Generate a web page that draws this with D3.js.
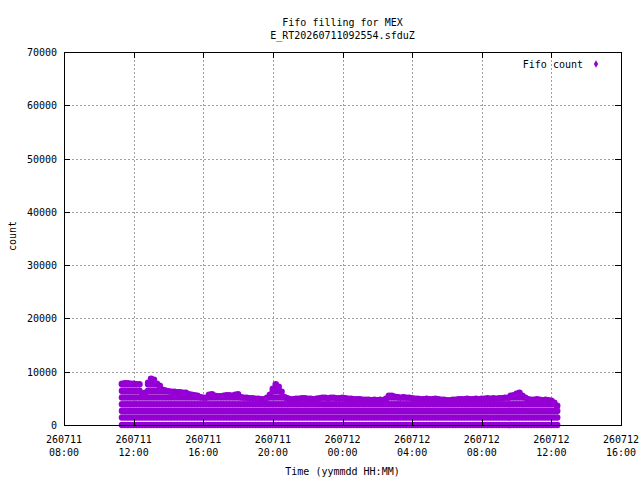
<!DOCTYPE html>
<html>
<head>
<meta charset="utf-8">
<script src="https://cdn.jsdelivr.net/npm/d3@7.9.0/dist/d3.min.js"></script>
<style>
  html, body { margin: 0; padding: 0; background: #fff; }
  svg text { font-family: "DejaVu Sans Mono", "Liberation Mono", monospace; font-size: 10px; fill: #000; }
</style>
</head>
<body>
<div id="chart"></div>
<script>
// fifo samples, one bucket every 10 minutes, peak count seen in each bucket
const sampleStart = "2026-07-11 11:20";
const sampleStepMinutes = 10;
const peakCounts = [
  7730, 7830, 7830, 7730, 7730, 7640, 7640, 5860, 6040, 7920,
  8670, 8480, 7730, 7360, 6610, 6420, 6330, 6230, 6230, 6140,
  6140, 6040, 6040, 5760, 5670, 5580, 5480, 5200, 5110, 5110,
  5670, 5760, 5480, 5390, 5390, 5480, 5580, 5580, 5480, 5670,
  5760, 5200, 5110, 5110, 5010, 5010, 4920, 4920, 4820, 4820,
  5110, 5670, 6800, 7640, 7170, 6230, 5200, 5010, 4820, 4820,
  4920, 4920, 5010, 5010, 4920, 4920, 4820, 4920, 5010, 5110,
  5110, 5010, 5110, 5110, 5010, 5010, 5110, 5010, 4920, 4920,
  4820, 4820, 4820, 4730, 4730, 4730, 4640, 4730, 4640, 4730,
  4640, 4920, 5480, 5480, 5290, 5200, 5110, 5200, 5110, 5110,
  5010, 4920, 4920, 4820, 4820, 4920, 4820, 4820, 4920, 4820,
  4730, 4730, 4640, 4640, 4730, 4730, 4820, 4820, 4820, 4920,
  4820, 4820, 4920, 4820, 4920, 4920, 5010, 4920, 5010, 4920,
  5010, 5010, 5110, 5110, 5480, 5580, 5860, 6040, 5480, 5110,
  4820, 4730, 4730, 4820, 4730, 4640, 4730, 4640, 4540, 4170,
  3600
];
// count levels the fifo passes through while filling (row stripes)
const fillLevels = [0, 1400, 2650, 3900, 5150, 6400, 7650];

const yTicks = [0, 10000, 20000, 30000, 40000, 50000, 60000, 70000];
const xTickTimes = [
  "2026-07-11 08:00", "2026-07-11 12:00", "2026-07-11 16:00", "2026-07-11 20:00",
  "2026-07-12 00:00", "2026-07-12 04:00", "2026-07-12 08:00", "2026-07-12 12:00",
  "2026-07-12 16:00"
];

const width = 640;
const height = 480;
const margin = { top: 52, right: 19, bottom: 55, left: 64 };
const plot = {
  left: margin.left,
  right: width - margin.right,
  top: margin.top,
  bottom: height - margin.bottom
};

const parseTime = d3.timeParse("%Y-%m-%d %H:%M");
const xTicks = xTickTimes.map(parseTime);
const start = parseTime(sampleStart);

const samples = peakCounts.map((peak, i) => ({
  time: d3.timeMinute.offset(start, i * sampleStepMinutes),
  peak: peak
}));

// every level reached in a bucket, plus the bucket's peak
const points = [];
samples.forEach(s => {
  fillLevels.filter(l => l < s.peak).forEach(l => points.push({ time: s.time, count: l }));
  points.push({ time: s.time, count: s.peak });
});

const xScale = d3.scaleTime()
  .domain([xTicks[0], xTicks[xTicks.length - 1]])
  .range([plot.left, plot.right]);

const yScale = d3.scaleLinear()
  .domain([0, 70000])
  .range([plot.bottom, plot.top]);

const svg = d3.select("#chart")
  .append("svg")
  .attr("width", width)
  .attr("height", height)
  .attr("viewBox", `0 0 ${width} ${height}`);

// gridlines
const grid = svg.append("g").attr("class", "grid")
  .attr("stroke", "#a0a0a0")
  .attr("stroke-dasharray", "2,2")
  .attr("shape-rendering", "crispEdges");

grid.selectAll(".gx")
  .data(xTicks.slice(1, -1))
  .join("line")
  .attr("x1", d => Math.round(xScale(d)) + 0.5)
  .attr("x2", d => Math.round(xScale(d)) + 0.5)
  .attr("y1", plot.top)
  .attr("y2", plot.bottom);

grid.selectAll(".gy")
  .data(yTicks.slice(1, -1))
  .join("line")
  .attr("x1", plot.left)
  .attr("x2", plot.right)
  .attr("y1", d => Math.round(yScale(d)) + 0.5)
  .attr("y2", d => Math.round(yScale(d)) + 0.5);

// data points
svg.append("g").attr("class", "dots")
  .selectAll("circle")
  .data(points)
  .join("circle")
  .attr("cx", d => xScale(d.time))
  .attr("cy", d => yScale(d.count))
  .attr("r", 3.3)
  .attr("fill", "#9400d3");

// axes: ticks inward on all four sides, tick labels drawn separately
const tickLen = 6;
const axes = svg.append("g").attr("class", "axes")
  .attr("stroke", "#000")
  .attr("shape-rendering", "crispEdges");

axes.selectAll(".tyl")
  .data(yTicks.slice(1, -1))
  .join("line")
  .attr("x1", plot.left)
  .attr("x2", plot.left + tickLen)
  .attr("y1", d => Math.round(yScale(d)) + 0.5)
  .attr("y2", d => Math.round(yScale(d)) + 0.5);

axes.selectAll(".tyr")
  .data(yTicks.slice(1, -1))
  .join("line")
  .attr("x1", plot.right)
  .attr("x2", plot.right - tickLen)
  .attr("y1", d => Math.round(yScale(d)) + 0.5)
  .attr("y2", d => Math.round(yScale(d)) + 0.5);

axes.selectAll(".txb")
  .data(xTicks.slice(1, -1))
  .join("line")
  .attr("x1", d => Math.round(xScale(d)) + 0.5)
  .attr("x2", d => Math.round(xScale(d)) + 0.5)
  .attr("y1", plot.bottom)
  .attr("y2", plot.bottom - tickLen);

axes.selectAll(".txt")
  .data(xTicks.slice(1, -1))
  .join("line")
  .attr("x1", d => Math.round(xScale(d)) + 0.5)
  .attr("x2", d => Math.round(xScale(d)) + 0.5)
  .attr("y1", plot.top)
  .attr("y2", plot.top + tickLen);

axes.append("rect")
  .attr("x", plot.left + 0.5)
  .attr("y", plot.top + 0.5)
  .attr("width", plot.right - plot.left)
  .attr("height", plot.bottom - plot.top)
  .attr("fill", "none");

// tick labels
svg.append("g").selectAll("text")
  .data(yTicks)
  .join("text")
  .attr("x", plot.left - 7)
  .attr("y", d => yScale(d) + 4)
  .attr("text-anchor", "end")
  .text(d => d);

const fmtDay = d3.timeFormat("%y%m%d");
const fmtHour = d3.timeFormat("%H:%M");
const xLabels = svg.append("g").selectAll("text")
  .data(xTicks)
  .join("text")
  .attr("text-anchor", "middle");
xLabels.append("tspan")
  .attr("x", d => xScale(d))
  .attr("y", 443)
  .text(d => fmtDay(d));
xLabels.append("tspan")
  .attr("x", d => xScale(d))
  .attr("y", 456)
  .text(d => fmtHour(d));

const midX = (plot.left + plot.right) / 2;

// titles
svg.append("text")
  .attr("x", midX)
  .attr("y", 25.5)
  .attr("text-anchor", "middle")
  .text("Fifo filling for MEX");
svg.append("text")
  .attr("x", midX)
  .attr("y", 38.5)
  .attr("text-anchor", "middle")
  .text("E_RT20260711092554.sfduZ");

svg.append("text")
  .attr("x", midX)
  .attr("y", 475)
  .attr("text-anchor", "middle")
  .text("Time (yymmdd HH:MM)");

svg.append("text")
  .attr("transform", `translate(16, 236) rotate(-90)`)
  .attr("text-anchor", "middle")
  .text("count");

// legend
svg.append("text")
  .attr("x", 583)
  .attr("y", 68)
  .attr("text-anchor", "end")
  .text("Fifo count");
svg.append("path")
  .attr("d", d3.symbol(d3.symbolDiamond, 16)())
  .attr("transform", "translate(596, 64)")
  .attr("fill", "#9400d3");
</script>
</body>
</html>
